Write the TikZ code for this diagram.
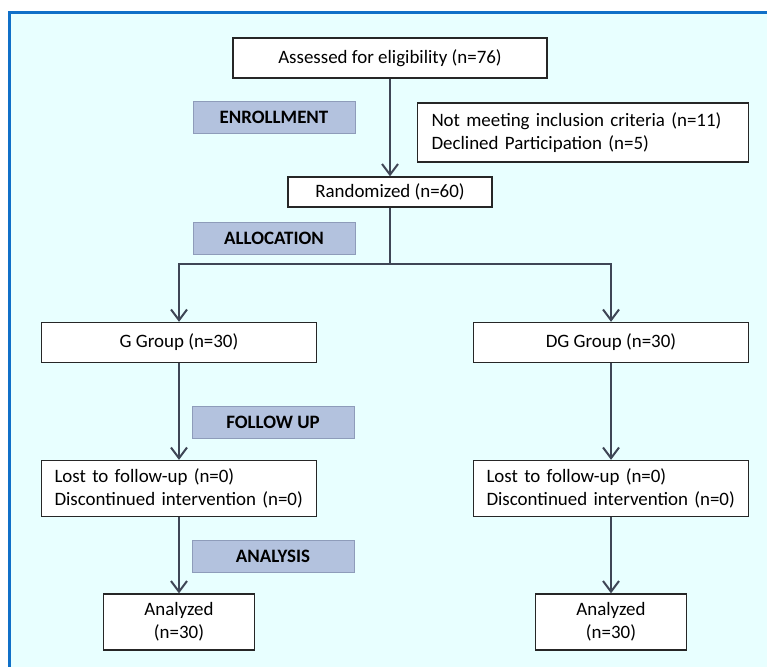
\documentclass[tikz,border=0pt]{standalone}
\usepackage{fontspec}
\setmainfont{Carlito}
\usetikzlibrary{arrows.meta}
\definecolor{bgcyan}{HTML}{E8FFFF}
\definecolor{frameblue}{HTML}{1070C8}
\definecolor{lblfill}{HTML}{B3C2DE}
\definecolor{lbldraw}{HTML}{8E9CBA}
\definecolor{arrcol}{HTML}{3F4656}
\tikzset{
  box/.style 2 args={draw=black!85, line width=1pt, fill=white, inner sep=0pt,
    minimum width=0.75*#1 pt, minimum height=0.75*#2 pt, font=\fontsize{14.2}{17}\selectfont},
  lbl/.style={draw=lbldraw, line width=0.6pt, fill=lblfill, inner sep=0pt,
    minimum width=0.75*162 pt, minimum height=0.75*32 pt, font=\fontsize{14.2}{16}\selectfont\bfseries},
  arr/.style={draw=arrcol, line width=1.5pt, -{Straight Barb[length=8pt,width=12pt,line width=1.5pt]}},
  conn/.style={draw=arrcol, line width=1.5pt}
}
\begin{document}
\begin{tikzpicture}[x=0.75pt,y=-0.75pt]
\useasboundingbox (0,0) rectangle (767,667);
\fill[white] (0,0) rectangle (767,667);
\fill[bgcyan] (9,12) rectangle (767,667);
\draw[frameblue, line width=2.2pt] (9.5,667) -- (9.5,12.5) -- (767,12.5);

\node[box={314}{40}] (assess) at (390,58) {Assessed for eligibility (n=76)};
\node[lbl] (enr) at (274,117) {ENROLLMENT};
\node[box={331}{59}, align=left, text width=0.75*303 pt] (excl) at (583,132.5)
  {Not meeting inclusion criteria (n=11)\\Declined Participation (n=5)};
\node[box={204}{30}] (rand) at (390,192) {Randomized (n=60)};
\node[lbl] (alloc) at (274,238) {ALLOCATION};
\node[box={275}{40}] (g) at (179,342.5) {G Group (n=30)};
\node[box={275}{40}] (dg) at (611,342.5) {DG Group (n=30)};
\node[lbl] (fol) at (273,422) {FOLLOW UP};
\node[box={275}{56}, align=left, text width=0.75*249 pt] (lostg) at (179,488.5)
  {Lost to follow-up (n=0)\\Discontinued intervention (n=0)};
\node[box={275}{56}, align=left, text width=0.75*249 pt] (lostdg) at (611,488.5)
  {Lost to follow-up (n=0)\\Discontinued intervention (n=0)};
\node[lbl] (ana) at (273,556) {ANALYSIS};
\node[box={151}{56}, align=center] (anag) at (179,622) {Analyzed\\(n=30)};
\node[box={151}{56}, align=center] (anadg) at (611,622) {Analyzed\\(n=30)};

\coordinate (split) at (390,264);
\draw[arr] (assess.south) -- (rand.north);
\draw[conn] (rand.south) -- (split);
\draw[arr] (split) -| (g.north);
\draw[arr] (split) -| (dg.north);
\draw[arr] (g.south) -- (lostg.north);
\draw[arr] (dg.south) -- (lostdg.north);
\draw[arr] (lostg.south) -- (anag.north);
\draw[arr] (lostdg.south) -- (anadg.north);
\end{tikzpicture}
\end{document}
